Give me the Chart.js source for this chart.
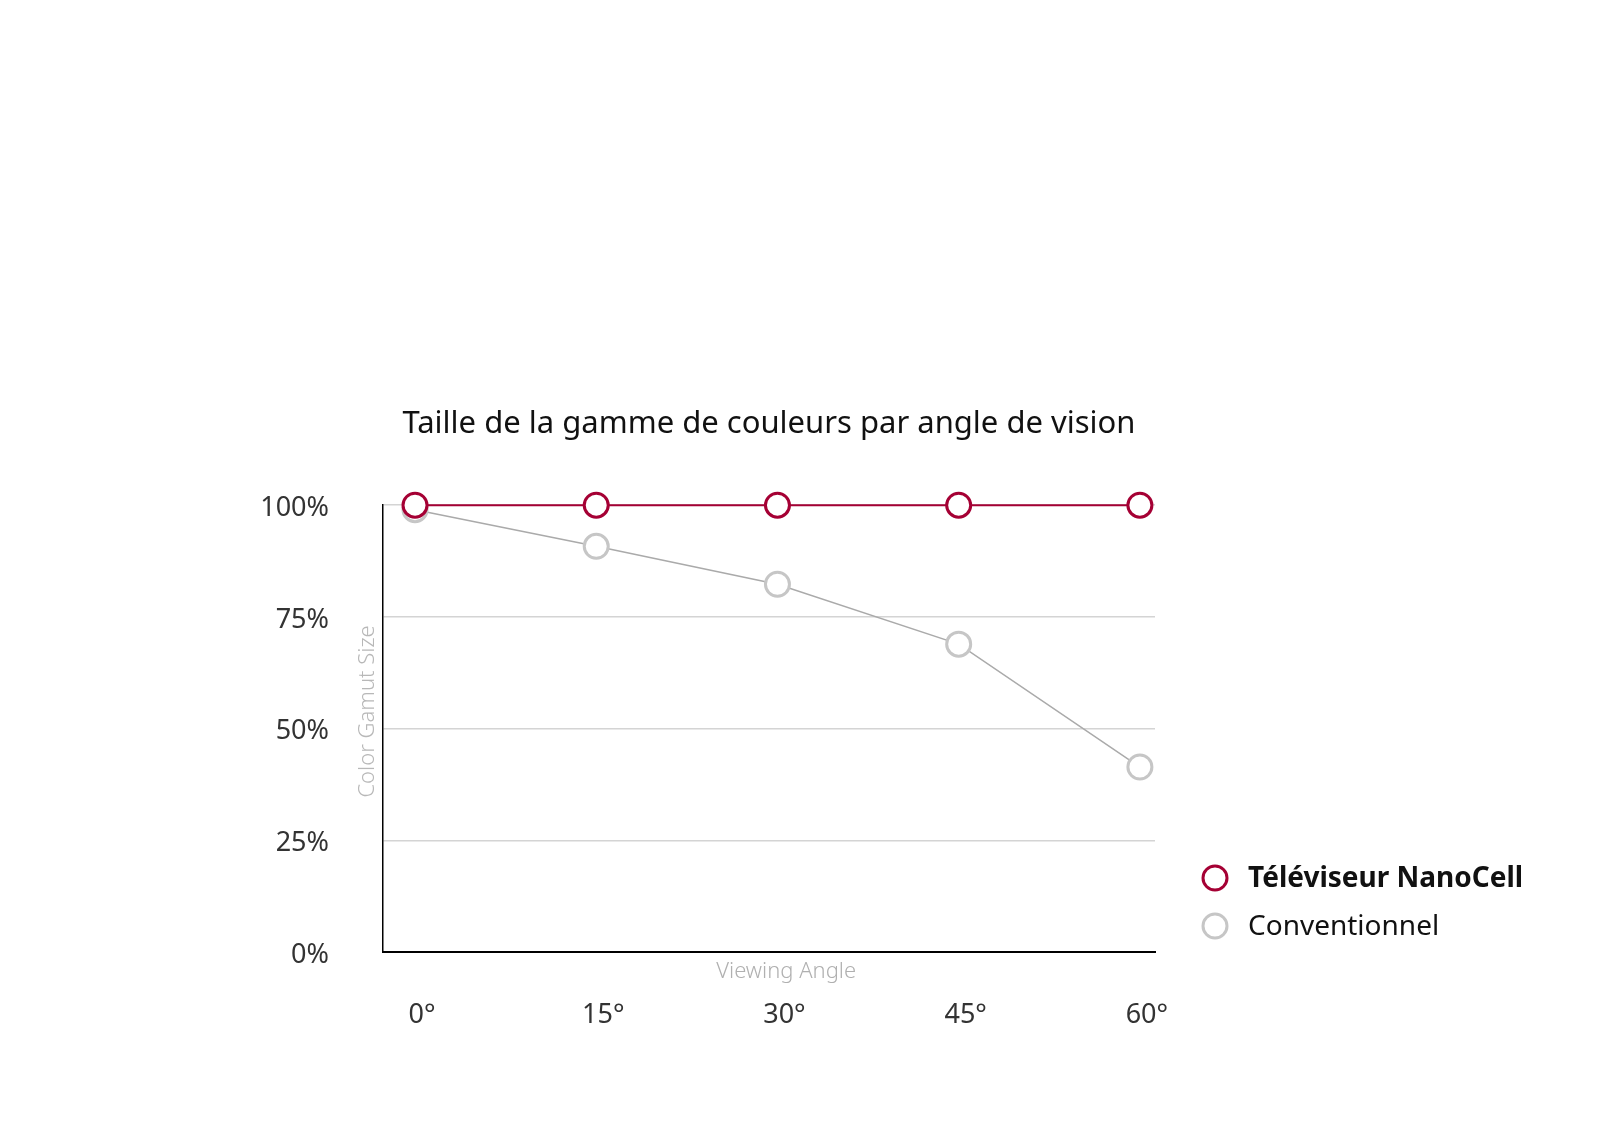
<!DOCTYPE html>
<html>
<head>
<meta charset="utf-8">
<script src="https://cdn.jsdelivr.net/npm/chart.js@4.4.1/dist/chart.umd.min.js"></script>
<style>
  html, body { margin: 0; padding: 0; background: #ffffff; }
  #wrap { width: 1600px; height: 1145px; position: relative; }
</style>
</head>
<body>
<div id="wrap"><canvas id="c" width="1600" height="1145"></canvas></div>
<script>
// ---- data ----
const chartTitle = 'Taille de la gamme de couleurs par angle de vision';
const categories = [0, 15, 30, 45, 60];            // viewing angle (degrees)
const nanoCellValues = [100, 100, 100, 100, 100];  // % colour gamut
const conventionalValues = [99, 90.8, 82.3, 68.9, 41.4];
const yTickValues = [0, 25, 50, 75, 100];
const seriesLabels = ['Téléviseur NanoCell', 'Conventionnel'];
const xAxisTitle = 'Viewing Angle';
const yAxisTitle = 'Color Gamut Size';

const FONT = "'Noto Sans', 'Open Sans', sans-serif";
const RED = '#a50034';
const GREY_LINE = '#aaaaaa';
const GREY_MARK = '#c6c6c6';

const toPoints = vals => categories.map((c, i) => ({ x: c, y: vals[i] }));

const legendPlugin = {
  id: 'sideLegend',
  afterDraw(chart) {
    const ctx = chart.ctx;
    const ds = chart.data.datasets;
    const x0 = 1215, y0 = 878, gap = 48;
    ds.forEach((d, i) => {
      const y = y0 + i * gap;
      ctx.save();
      ctx.beginPath();
      ctx.arc(x0, y, 12, 0, Math.PI * 2);
      ctx.fillStyle = '#ffffff';
      ctx.fill();
      ctx.lineWidth = 3;
      ctx.strokeStyle = d.pointBorderColor;
      ctx.stroke();
      ctx.fillStyle = '#111111';
      ctx.font = (i === 0 ? 'bold ' : '') + '28px ' + FONT;
      ctx.textBaseline = 'middle';
      ctx.textAlign = 'left';
      ctx.fillText(d.label, 1248, y + 1);
      ctx.restore();
    });
  }
};

const zeroPad = s => { s.paddingLeft = 0; s.paddingRight = 0; s.paddingTop = 0; s.paddingBottom = 0; };
const SP = '\u00a0\u00a0\u00a0\u00a0\u00a0\u00a0';

new Chart(document.getElementById('c'), {
  type: 'line',
  data: {
    datasets: [
      {
        label: seriesLabels[0],
        data: toPoints(nanoCellValues),
        borderColor: RED,
        borderWidth: 2,
        pointRadius: 12,
        pointBorderWidth: 3,
        pointBackgroundColor: '#ffffff',
        pointBorderColor: RED,
        clip: false,
        xAxisID: 'x', yAxisID: 'y'
      },
      {
        label: seriesLabels[1],
        data: toPoints(conventionalValues),
        borderColor: GREY_LINE,
        borderWidth: 1.5,
        pointRadius: 12,
        pointBorderWidth: 3,
        pointBackgroundColor: '#ffffff',
        pointBorderColor: GREY_MARK,
        clip: false,
        xAxisID: 'x', yAxisID: 'y'
      }
    ]
  },
  options: {
    responsive: false,
    animation: false,
    devicePixelRatio: 1,
    layout: { padding: { top: 406, left: 200, right: 445, bottom: 101 } },
    plugins: {
      legend: { display: false },
      tooltip: { enabled: false },
      title: {
        display: true,
        text: chartTitle,
        fullSize: false,
        color: '#111111',
        font: { family: FONT, size: 31, weight: 'normal', lineHeight: 1.2 },
        padding: { top: 0, bottom: 62 }
      }
    },
    scales: {
      x: {
        type: 'linear',
        position: 'bottom',
        weight: 0,
        min: -2.65, max: 61.25,
        grid: { display: false },
        border: { display: true, color: '#000000', width: 2 },
        ticks: { display: false },
        title: {
          display: true, text: SP + xAxisTitle, color: '#b0b0b0',
          font: { family: FONT, size: 22, weight: 300, lineHeight: 1.2 },
          padding: { top: 0, bottom: 0 }
        },
        afterFit(s) { s.height = 33; zeroPad(s); }
      },
      x2: {
        type: 'linear',
        position: 'bottom',
        weight: 1,
        min: -2.65, max: 61.25,
        grid: { display: false, drawTicks: false },
        border: { display: false },
        afterBuildTicks(s) { s.ticks = categories.map(v => ({ value: v })); },
        ticks: {
          color: '#333333',
          font: { family: FONT, size: 27 },
          padding: 14,
          labelOffset: 7,
          maxRotation: 0,
          callback: v => v + '°'
        },
        afterFit(s) { s.height = 59; zeroPad(s); }
      },
      y: {
        type: 'linear',
        position: 'left',
        weight: 0,
        min: 0, max: 100,
        afterBuildTicks(s) { s.ticks = yTickValues.map(v => ({ value: v })); },
        grid: {
          drawTicks: false,
          color: ctx => ctx.tick && ctx.tick.value === 0 ? 'rgba(0,0,0,0)' : '#d4d4d4',
          lineWidth: 1.5
        },
        border: { display: true, color: '#000000', width: 1.5 },
        ticks: { display: false },
        title: {
          display: true, text: SP + yAxisTitle, color: '#b8b8b8',
          font: { family: FONT, size: 22, weight: 300, lineHeight: 1.2 },
          padding: { top: 0, bottom: 0 }
        },
        afterFit(s) { s.width = 28; zeroPad(s); }
      },
      y2: {
        type: 'linear',
        position: 'left',
        weight: 1,
        min: 0, max: 100,
        afterBuildTicks(s) { s.ticks = yTickValues.map(v => ({ value: v })); },
        grid: { display: false, drawTicks: false },
        border: { display: false },
        ticks: {
          color: '#333333',
          font: { family: FONT, size: 27 },
          padding: 26,
          labelOffset: 3,
          callback: v => v + '%'
        },
        afterFit(s) { s.width = 155; zeroPad(s); }
      }
    }
  },
  plugins: [legendPlugin]
});
</script>
</body>
</html>
